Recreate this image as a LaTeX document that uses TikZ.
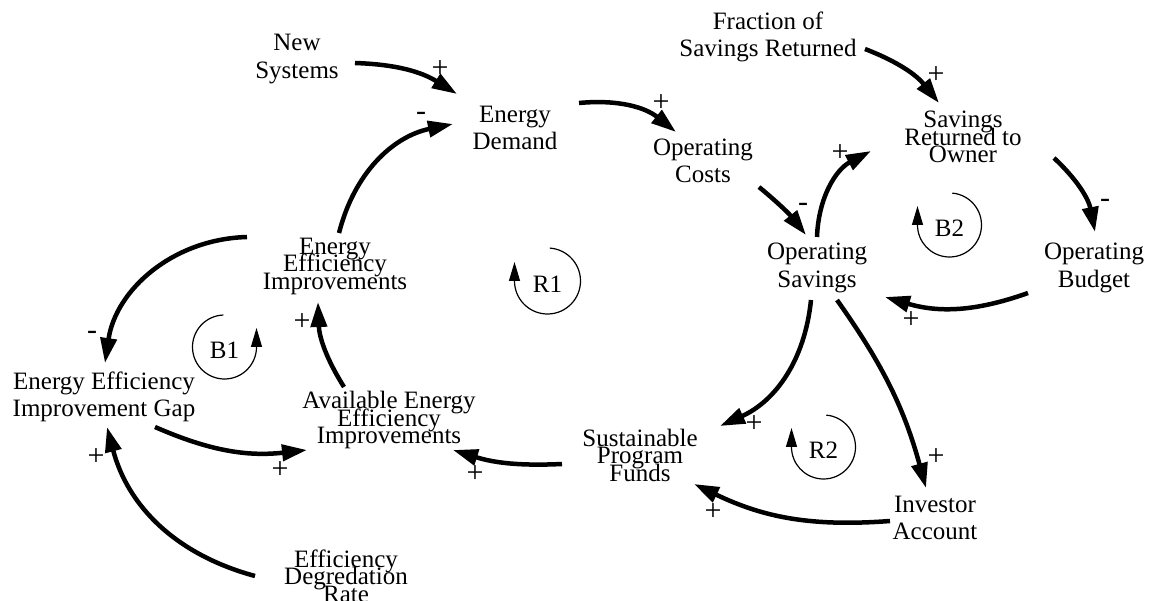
\documentclass[tikz,border=0pt]{standalone}
\usepackage{fontspec}
\setmainfont{Liberation Serif}
\usetikzlibrary{arrows.meta}
\newcommand\tightlines{\lineskiplimit=-100pt\relax}
\begin{document}
\tightlines
\begin{tikzpicture}[x=1pt,y=1pt,
  var/.style={align=center,inner sep=0pt,
    font={\fontsize{25}{27.5}\selectfont\tightlines}},
  tight/.style={var,font={\fontsize{25}{17.5}\selectfont\tightlines}},
  link/.style={line width=4.5pt,-{Triangle[length=25pt,width=16pt]}},
  pol/.style={font={\fontsize{30}{30}\selectfont},inner sep=0pt},
  loopmark/.style={line width=1.2pt,-{Triangle[length=19pt,width=11pt]}},
  looplabel/.style={font={\fontsize{25}{25}\selectfont},inner sep=0pt}]
\useasboundingbox (0,0) rectangle (1152,-601);

% variables
\node[var]   (NS)    at (297,-59)   {New\\Systems};
\node[var]   (ED)    at (515,-128)  {Energy\\Demand};
\node[var]   (FSR)   at (768,-37)   {Fraction of\\Savings Returned};
\node[tight] (SRO)   at (963,-137)  {Savings\\Returned to\\Owner};
\node[var]   (OC)    at (703,-161)  {Operating\\Costs};
\node[var]   (OS)    at (817,-268)  {Operating\\Savings};
\node[var]   (OB)    at (1094,-268) {Operating\\Budget};
\node[tight] (EEI)   at (335,-266)  {Energy\\Efficiency\\Improvements};
\node[var]   (Gap)   at (104,-397)  {Energy Efficiency\\Improvement Gap};
\node[tight] (Avail) at (389,-420)  {Available Energy\\Efficiency\\Improvements};
\node[tight] (SPF)   at (640,-455)  {Sustainable\\Program\\Funds};
\node[var]   (IA)    at (935,-518)  {Investor\\Account};
\node[tight] (EDR)   at (346,-576)  {Efficiency\\Degredation\\Rate};

% causal links
\draw[link] ([shift={(58,-4)}]NS.center)    to[bend left=15] ([shift={(-58,34)}]ED.center);
\draw[link] ([shift={(4,33)}]EEI.center)    to[bend left=32] ([shift={(-62,4)}]ED.center);
\draw[link] ([shift={(64,25)}]ED.center)    to[bend left=22] ([shift={(-27,29)}]OC.center);
\draw[link] ([shift={(56,-26)}]OC.center)   to[bend left=6]  ([shift={(-11,33)}]OS.center);
\draw[link] ([shift={(0,31)}]OS.center)     to[bend left=30] ([shift={(-92,-14)}]SRO.center);
\draw[link] ([shift={(97,-12)}]FSR.center)  to[bend left=15] ([shift={(-24,34)}]SRO.center);
\draw[link] ([shift={(91,-21)}]SRO.center)  to[bend left=18] ([shift={(1,36)}]OB.center);
\draw[link] ([shift={(-66,-25)}]OB.center)  to[bend left=18] ([shift={(68,-29)}]OS.center);
\draw[link] ([shift={(-6,-32)}]OS.center)   to[bend left=30] ([shift={(80,29)}]SPF.center);
\draw[link] ([shift={(20,-32)}]OS.center)   to[bend left=10] ([shift={(-9,30)}]IA.center);
\draw[link] ([shift={(-45,-3)}]IA.center)   to[bend left=15] ([shift={(54,-29)}]SPF.center);
\draw[link] ([shift={(-78,-9)}]SPF.center)  to[bend left=10] ([shift={(64,-30)}]Avail.center);
\draw[link] ([shift={(-45,33)}]Avail.center) to[bend left=15] ([shift={(-17,-36)}]EEI.center);
\draw[link] ([shift={(-88,29)}]EEI.center)  to[bend right=40] ([shift={(1,34)}]Gap.center);
\draw[link] ([shift={(51,-30)}]Gap.center)  to[bend right=15] ([shift={(-82,-30)}]Avail.center);
\draw[link] ([shift={(-91,0)}]EDR.center)   to[bend left=30] ([shift={(3,-30)}]Gap.center);

% polarities
\node[pol] (p1)  at (440,-69)  {+};
\node[pol] (p2)  at (421,-116) {-};
\node[pol] (p3)  at (661,-103) {+};
\node[pol] (p4)  at (803,-207) {-};
\node[pol] (p5)  at (840,-153) {+};
\node[pol] (p6)  at (936,-75)  {+};
\node[pol] (p7)  at (1105,-203) {-};
\node[pol] (p8)  at (911,-320) {+};
\node[pol] (p9)  at (754,-424) {+};
\node[pol] (p10) at (936,-457) {+};
\node[pol] (p11) at (713,-512) {+};
\node[pol] (p12) at (475,-474) {+};
\node[pol] (p13) at (302,-322) {+};
\node[pol] (p14) at (92,-335)  {-};
\node[pol] (p15) at (280,-470) {+};
\node[pol] (p16) at (96,-457)  {+};

% loop identifiers: a circular arrow around each label
\node[looplabel] (R1) at (547.5,-284) {R1};
\node[looplabel] (B2) at (949.5,-228) {B2};
\node[looplabel] (R2) at (823.5,-450) {R2};
\node[looplabel] (B1) at (224.5,-350) {B1};
\draw[loopmark] ([shift={(0,3)}]R1.center) ++(86:33) arc[start angle=86,end angle=-180,radius=33] -- ++(0,19);
\draw[loopmark] ([shift={(0,3)}]B2.center) ++(85:32) arc[start angle=85,end angle=-180,radius=32] -- ++(0,19);
\draw[loopmark] ([shift={(0,3)}]R2.center) ++(85:32) arc[start angle=85,end angle=-180,radius=32] -- ++(0,19);
\draw[loopmark] ([shift={(0,3)}]B1.center) ++(92:32) arc[start angle=92,end angle=360,radius=32] -- ++(0,19);
\end{tikzpicture}
\end{document}
